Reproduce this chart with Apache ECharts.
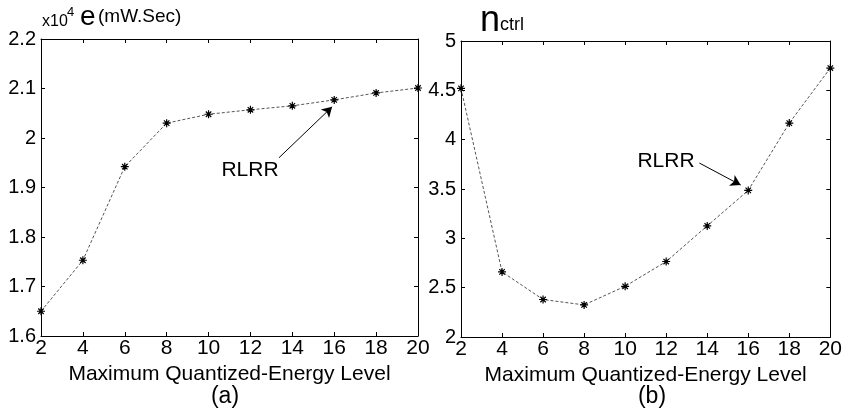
<!DOCTYPE html>
<html>
<head>
<meta charset="utf-8">
<script src="https://cdn.jsdelivr.net/npm/echarts@6/dist/echarts.min.js"></script>
<style>
  html, body { margin: 0; padding: 0; background: #fff; }
  #chart { width: 845px; height: 408px; }
</style>
</head>
<body>
<div id="chart"></div>
<script>
// Maximum quantized-energy level (shared x values)
const levels = [2, 4, 6, 8, 10, 12, 14, 16, 18, 20];
// (a) consumed energy e, in units of 10^4 mW.Sec
const energyE4 = [1.65, 1.753, 1.942, 2.03, 2.048, 2.057, 2.065, 2.077, 2.091, 2.101];
// (b) number of control actions n_ctrl
const nCtrl = [4.52, 2.66, 2.38, 2.325, 2.514, 2.765, 3.126, 3.486, 4.168, 4.726];

// "RLRR" callouts: label anchor, arrow tail, arrow head (data coordinates)
const noteA = { text: [11.98, 1.935], from: [13.36, 1.96], to: [15.9, 2.063] };
const noteB = { text: [11.99, 3.783], from: [13.62, 3.763], to: [15.63, 3.54] };

const FONT = "'Liberation Sans', Arial, sans-serif";
const STAR = 'path://M0 5 L10 5 M5 0 L5 10 M1.6 1.6 L8.4 8.4 M8.4 1.6 L1.6 8.4';

const toPairs = (ys) => levels.map((x, i) => [x, ys[i]]);

function xAxes(gridIndex) {
  const common = {
    type: 'value', gridIndex, min: 2, max: 20, interval: 2,
    axisLine: { show: true, onZero: false, lineStyle: { color: '#000', width: 1 } },
    axisTick: { show: true, inside: true, length: 4, lineStyle: { color: '#000' } },
    splitLine: { show: false }
  };
  return [
    Object.assign({}, common, {
      position: 'bottom',
      axisLabel: { margin: 2, fontSize: 21, color: '#000', fontFamily: FONT },
      name: 'Maximum Quantized-Energy Level',
      nameLocation: 'middle', nameGap: 22,
      nameTextStyle: { fontSize: 21, color: '#000', fontFamily: FONT }
    }),
    Object.assign({}, common, { position: 'top', axisLabel: { show: false } })
  ];
}

function yAxes(gridIndex, min, max, interval) {
  const common = {
    type: 'value', gridIndex, min, max, interval,
    axisLine: { show: true, onZero: false, lineStyle: { color: '#000', width: 1 } },
    axisTick: { show: true, inside: true, length: 4, lineStyle: { color: '#000' } },
    splitLine: { show: false }
  };
  return [
    Object.assign({}, common, {
      position: 'left',
      axisLabel: { margin: 5, fontSize: 20, color: '#000', fontFamily: FONT }
    }),
    Object.assign({}, common, { position: 'right', axisLabel: { show: false } })
  ];
}

function seriesFor(idx, values, note) {
  return {
    type: 'line',
    xAxisIndex: idx * 2, yAxisIndex: idx * 2,
    data: toPairs(values),
    symbol: STAR, symbolSize: 8,
    itemStyle: { color: '#000', borderColor: '#000', borderWidth: 1.2 },
    lineStyle: { color: '#555', width: 1, type: [3, 2] },
    emphasis: { disabled: true },
    silent: true,
    markLine: {
      silent: true, symbol: ['none', 'arrow'], symbolSize: [9, 10],
      lineStyle: { color: '#000', width: 1, type: 'solid' },
      label: { show: false },
      data: [[{ coord: note.from }, { coord: note.to }]]
    },
    markPoint: {
      silent: true,
      data: [{
        coord: note.text, symbol: 'circle', symbolSize: 0,
        label: { show: true, position: 'inside', formatter: 'RLRR',
                 fontSize: 21, color: '#000', fontFamily: FONT }
      }]
    }
  };
}

const chart = echarts.init(document.getElementById('chart'), null, { renderer: 'canvas' });
chart.setOption({
  animation: false,
  backgroundColor: '#fff',
  grid: [
    { left: 41, top: 39, width: 377, height: 297 },
    { left: 461, top: 41, width: 375, height: 296 }
  ],
  xAxis: xAxes(0).concat(xAxes(1)),
  yAxis: yAxes(0, 1.6, 2.2, 0.1).concat(yAxes(1, 2, 5, 0.5)),
  series: [seriesFor(0, energyE4, noteA), seriesFor(1, nCtrl, noteB)],
  graphic: [
    { type: 'text', left: 42, top: 14, style: { text: 'x10', font: '16px ' + FONT, fill: '#000' } },
    { type: 'text', left: 67, top: 6, style: { text: '4', font: '13px ' + FONT, fill: '#000' } },
    { type: 'text', left: 80, top: 3, style: { text: 'e', font: '28px ' + FONT, fill: '#000' } },
    { type: 'text', left: 98, top: 7, style: { text: '(mW.Sec)', font: '19px ' + FONT, fill: '#000' } },
    { type: 'text', left: 480, top: 3, style: { text: 'n', font: '36px ' + FONT, fill: '#000' } },
    { type: 'text', left: 500, top: 16, style: { text: 'ctrl', font: '18px ' + FONT, fill: '#000' } },
    { type: 'text', x: 225, y: 397, style: { text: '(a)', font: '23px ' + FONT, fill: '#000', align: 'center', verticalAlign: 'middle' } },
    { type: 'text', x: 652, y: 397, style: { text: '(b)', font: '23px ' + FONT, fill: '#000', align: 'center', verticalAlign: 'middle' } }
  ]
});
</script>
</body>
</html>
